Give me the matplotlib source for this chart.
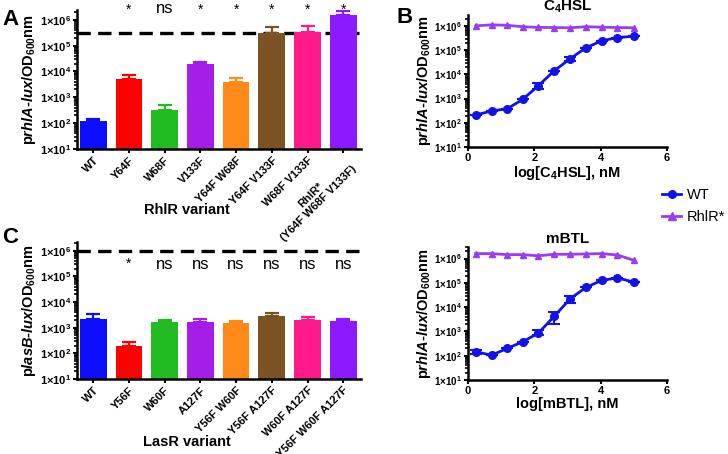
import matplotlib
matplotlib.use("Agg")
import matplotlib.pyplot as plt
import matplotlib.ticker as mticker
import matplotlib.transforms as mtransforms
from matplotlib.lines import Line2D
import numpy as np

plt.rcParams['font.family'] = 'Liberation Sans'
plt.rcParams['font.weight'] = 'bold'
plt.rcParams['axes.labelweight'] = 'bold'
plt.rcParams['axes.titleweight'] = 'bold'
plt.rcParams['mathtext.fontset'] = 'custom'
plt.rcParams['mathtext.rm'] = 'Liberation Sans:bold'
plt.rcParams['mathtext.bf'] = 'Liberation Sans:bold'
plt.rcParams['mathtext.it'] = 'Liberation Sans:italic:bold'
plt.rcParams['mathtext.default'] = 'bf'

# Panel A data (RhlR variants)
rhlr_labels = ["WT", "Y64F", "W68F", "V133F", "Y64F W68F", "Y64F V133F",
               "W68F V133F", "RhlR*\n(Y64F W68F V133F)"]
rhlr_vals = [120, 5000, 330, 20000, 4000, 320000, 350000, 1.5e6]
rhlr_err = [30, 2000, 170, 3000, 1800, 200000, 210000, 7e5]
rhlr_sig = ["", "*", "ns", "*", "*", "*", "*", "*"]
rhlr_cut = 3e5

# Panel C data (LasR variants)
lasr_labels = ["WT", "Y56F", "W60F", "A127F", "Y56F W60F", "Y56F A127F",
               "W60F A127F", "Y56F W60F A127F"]
lasr_vals = [2200, 200, 1700, 1700, 1600, 2900, 2000, 1800]
lasr_err = [1200, 80, 250, 400, 300, 900, 600, 400]
lasr_sig = ["", "*", "ns", "ns", "ns", "ns", "ns", "ns"]
lasr_cut = 1e6

bar_colors = ["#0d0dff", "#ff0000", "#22bb22", "#a41ee8", "#ff8a1a",
              "#7d5222", "#ff1a8c", "#8c1aff"]

# Panels B and D (dose response)
log_conc = [0.23, 0.71, 1.18, 1.65, 2.12, 2.6, 3.08, 3.56, 4.03, 4.51, 5.0]
c4_wt = [210, 310, 380, 930, 3400, 14000, 44000, 125000, 240000, 330000, 370000]
c4_wt_lo = [0, 0, 0, 0, 900, 0, 8000, 0, 0, 0, 0]
c4_wt_hi = [0, 0, 0, 0, 900, 0, 8000, 0, 0, 0, 0]
c4_rhlr = [1.0e6, 1.1e6, 1.05e6, 9.2e5, 8.6e5, 8.5e5, 8.3e5, 9.2e5, 8.8e5, 8.5e5, 8.3e5]

mbtl_wt = [145, 105, 200, 375, 850, 4200, 22000, 65000, 126000, 160000, 107000]
mbtl_wt_lo = [30, 0, 0, 0, 150, 2200, 7000, 0, 0, 0, 0]
mbtl_wt_hi = [20, 0, 0, 0, 250, 2000, 6000, 0, 0, 0, 0]
mbtl_rhlr = [1.6e6, 1.6e6, 1.45e6, 1.45e6, 1.3e6, 1.5e6, 1.5e6, 1.55e6, 1.6e6, 1.4e6, 8.5e5]

wt_color = "#1212e6"
rhlr_color = "#9a3cf0"


def log_fmt(v, pos):
    e = int(round(np.log10(v)))
    return r'$\mathbf{1{\times}10^{%d}}$' % e


def style_axis(ax, ysize):
    for s in ["top", "right"]:
        ax.spines[s].set_visible(False)
    for s in ["left", "bottom"]:
        ax.spines[s].set_linewidth(1.8)
    ax.set_yscale('log')
    ax.yaxis.set_major_locator(mticker.LogLocator(base=10, numticks=10))
    ax.yaxis.set_minor_locator(mticker.LogLocator(base=10, subs=np.arange(2, 10), numticks=10))
    ax.yaxis.set_minor_formatter(mticker.NullFormatter())
    ax.yaxis.set_major_formatter(mticker.FuncFormatter(log_fmt))
    ax.tick_params(axis='both', which='major', width=1.5, length=3, pad=1.5)
    ax.tick_params(axis='y', labelsize=ysize)
    ax.tick_params(axis='x', labelsize=8)
    ax.tick_params(axis='y', which='minor', width=1.2, length=2)


def bar_panel(ax, labels, vals, err, sig, cut, ylabel, xlabel, ytop, label_y, sig_in_data):
    x = np.arange(len(labels))
    ax.axhline(cut, color='black', lw=2.4, dashes=(4, 2.2), zorder=1)
    ax.bar(x, vals, width=0.75, color=bar_colors, zorder=2)
    for i in range(len(x)):
        ax.errorbar(x[i], vals[i], yerr=[[0], [err[i]]], color=bar_colors[i],
                    capsize=5, elinewidth=1.6, capthick=1.6, zorder=3)
    style_axis(ax, 8)
    ax.set_ylim(10, ytop)
    ax.set_xlim(-0.45, 7.5)
    ax.set_xticks(x)
    ax.set_xticklabels(labels, rotation=45, ha='right', rotation_mode='anchor',
                       multialignment='center')
    ax.set_ylabel(ylabel, fontsize=10.5, labelpad=1)
    ax.set_xlabel(xlabel, fontsize=10.5)
    ax.xaxis.set_label_coords(0.387, label_y)
    for i, s in enumerate(sig):
        if not s:
            continue
        if sig_in_data:
            ax.text(x[i], 3e5, s, ha='center', va='center',
                    fontsize=12 if s == 'ns' else 10, fontweight='normal')
        else:
            tr = mtransforms.blended_transform_factory(ax.transData, ax.figure.transFigure)
            ax.text(x[i], 1 - (1 if s == 'ns' else 3) / 454, s, ha='center', va='top',
                    fontsize=12 if s == 'ns' else 10, fontweight='normal',
                    transform=tr, clip_on=False)


def curve_panel(ax, wt, wt_lo, wt_hi, rh, title, xlabel, ytop, tpad):
    ax.errorbar(log_conc, rh, color=rhlr_color, marker='^', ms=5, lw=2, zorder=2)
    ax.errorbar(log_conc, wt, yerr=[wt_lo, wt_hi], color=wt_color, marker='o', ms=5.5,
                lw=2, capsize=4, elinewidth=1.5, capthick=1.5, zorder=3)
    style_axis(ax, 7)
    ax.set_ylim(10, ytop)
    ax.set_xlim(0, 6)
    ax.set_xticks([0, 2, 4, 6])
    ax.set_ylabel(r'p$\mathit{rhlA}$-$\mathit{lux}$/OD$_{600}$nm', fontsize=10.5, labelpad=1)
    ax.set_xlabel(xlabel, fontsize=10.5)
    ax.xaxis.set_label_coords(0.5, -0.125)
    ax.set_title(title, fontsize=11, pad=tpad)


fig = plt.figure(figsize=(7.28, 4.54), dpi=100)
axA = fig.add_axes([0.106, 0.672, 0.39, 0.306])
axC = fig.add_axes([0.106, 0.165, 0.39, 0.302])
axB = fig.add_axes([0.643, 0.676, 0.273, 0.291])
axD = fig.add_axes([0.643, 0.163, 0.273, 0.293])

bar_panel(axA, rhlr_labels, rhlr_vals, rhlr_err, rhlr_sig, rhlr_cut,
          r'p$\mathit{rhlA}$-$\mathit{lux}$/OD$_{600}$nm', 'RhlR variant', 2.4e6, -0.39, False)
bar_panel(axC, lasr_labels, lasr_vals, lasr_err, lasr_sig, lasr_cut,
          r'p$\mathit{lasB}$-$\mathit{lux}$/OD$_{600}$nm', 'LasR variant', 2.2e6, -0.41, True)

curve_panel(axB, c4_wt, c4_wt_lo, c4_wt_hi, c4_rhlr, r'C$_4$HSL', r'log[C$_4$HSL], nM', 2.8e6, 1)
curve_panel(axD, mbtl_wt, mbtl_wt_lo, mbtl_wt_hi, mbtl_rhlr, 'mBTL', 'log[mBTL], nM', 3e6, 3)

fig.text(0.003, 0.956, 'A', fontsize=16, fontweight='bold', va='center', ha='left')
fig.text(0.545, 0.962, 'B', fontsize=16, fontweight='bold', va='center', ha='left')
fig.text(0.003, 0.476, 'C', fontsize=16, fontweight='bold', va='center', ha='left')

handles = [Line2D([0], [0], color=wt_color, marker='o', lw=2, ms=5.5),
           Line2D([0], [0], color=rhlr_color, marker='^', lw=2, ms=6)]
fig.legend(handles, ['WT', 'RhlR*'], loc='center left', frameon=False,
           bbox_to_anchor=(0.896, 1 - 206 / 454), handlelength=1.3,
           handletextpad=0.35, labelspacing=0.5, borderaxespad=0.3,
           prop={'weight': 'normal', 'size': 10.5})

fig.savefig('out.png', dpi=100)
